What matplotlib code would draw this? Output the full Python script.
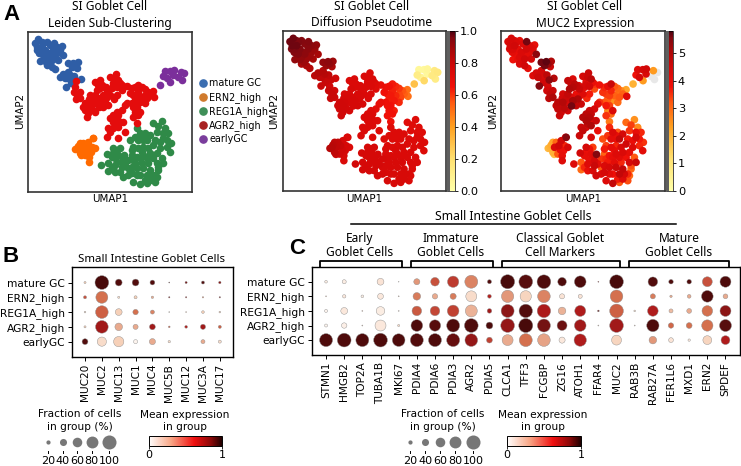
import numpy as np
import matplotlib
matplotlib.use('Agg')
import matplotlib.pyplot as plt
from matplotlib.colors import LinearSegmentedColormap, Normalize
from matplotlib.cm import ScalarMappable
from matplotlib.patches import Rectangle

W, H = 741, 466

## umap points, one row per cell: umap1, umap2, pseudotime, MUC2
mature_gc = [
    (115,118,.97,4.4),(105,128,.97,4.3),(125,125,.96,4.2),(140,125,.95,4.0),(161,128,.95,5.6),(112,140,.97,4.4),
    (125,140,.97,4.5),(150,135,.94,4.2),(185,138,.92,4.0),(120,150,.96,4.3),(135,150,.95,4.0),(160,150,.93,4.4),
    (180,150,.90,4.2),(130,165,.95,3.9),(145,160,.93,4.3),(170,160,.90,4.1),(190,166,.88,5.4),(120,182,.92,3.8),
    (140,175,.92,4.2),(155,180,.90,4.5),(165,172,.90,4.0),(140,195,.87,4.3),(155,200,.87,4.5),(165,208,.85,4.0),
    (205,190,.92,5.6),(220,188,.93,5.7),(235,187,.90,5.0),(215,200,.90,5.6),(232,203,.87,4.6),(180,230,.83,4.2),
    (190,222,.85,4.4),(205,215,.85,4.5),(200,235,.82,4.3),(215,240,.80,4.4),(199,261,.80,5.5),(212,250,.80,4.5),
    (243,238,.78,4.9),(150,165,.93,4.1),(135,182,.92,4.0),(110,150,.96,4.3),(175,180,.88,4.4),(195,235,.82,4.6),
    (222,228,.82,4.8),(130,130,.96,4.3),(118,160,.95,4.1),(160,140,.94,4.2),(148,190,.90,4.0),(210,225,.84,4.4),
    (225,195,.92,5.3),(170,140,.93,4.3),
]
agr2_high = [
    (222,275,.80,4.5),(232,285,.80,4.7),(228,298,.80,4.8),(240,275,.78,4.6),(240,295,.78,5.0),(225,262,.78,4.4),
    (285,245,.74,4.7),(300,240,.74,4.3),(305,255,.74,4.8),(330,232,.74,4.4),(347,222,.74,4.6),(355,240,.74,4.8),
    (340,248,.74,4.0),(365,255,.72,3.5),(350,262,.74,4.5),(335,265,.74,4.2),(320,270,.74,4.6),(300,265,.74,4.9),
    (290,270,.75,5.0),(285,285,.75,4.7),(270,285,.75,4.4),(310,285,.75,3.9),(330,285,.74,4.2),(350,285,.74,3.7),
    (365,270,.72,3.3),(380,258,.68,3.8),(390,280,.65,3.5),(415,255,.64,4.6),(425,262,.62,3.2),(435,268,.60,3.0),
    (415,275,.63,3.6),(400,285,.64,3.4),(435,285,.58,2.9),(460,272,.50,2.2),(462,292,.50,4.2),(440,295,.58,3.2),
    (405,300,.63,3.1),(420,305,.64,2.5),(435,310,.62,3.0),(410,320,.65,3.4),(405,335,.65,2.6),(400,350,.65,3.5),
    (420,335,.63,4.3),(410,368,.66,2.8),(375,315,.68,4.1),(380,310,.68,3.5),(365,330,.70,4.4),(350,335,.72,4.6),
    (340,345,.74,4.8),(350,355,.74,4.9),(340,365,.74,5.0),(325,385,.74,4.6),(340,385,.74,4.5),(320,410,.74,4.6),
    (330,395,.74,4.7),(355,415,.73,4.4),(375,395,.72,3.9),(370,365,.72,4.6),(355,380,.73,5.0),(255,310,.78,4.8),
    (265,320,.78,4.6),(255,330,.78,4.7),(265,340,.78,4.5),(260,350,.78,4.6),(270,310,.77,4.9),(285,310,.76,4.4),
    (300,305,.76,5.1),(310,320,.76,4.7),(325,315,.75,4.6),(296,321,.76,5.6),(285,335,.76,4.5),(315,300,.75,5.0),
    (235,290,.80,4.6),(229,243,.79,5.4),(295,255,.74,4.5),(318,260,.74,4.3),(345,235,.74,4.6),(360,250,.73,3.9),
    (338,258,.74,4.4),(312,262,.74,4.7),(280,298,.76,4.6),(268,298,.76,4.5),(295,295,.75,4.2),(320,292,.75,4.1),
    (342,298,.74,3.6),(250,320,.78,4.7),(275,328,.77,4.8),(355,345,.73,4.7),(330,355,.74,4.9),(345,375,.74,4.8),
    (360,365,.73,4.2),(425,290,.62,3.1),(410,290,.64,3.4),(395,265,.66,3.6),(405,262,.65,4.0),(445,275,.56,2.6),
    (450,285,.54,3.1),(395,310,.66,3.2),(415,345,.65,3.0),(400,320,.66,3.7),
]
reg1a_high = [
    (460,370,.71,3.0),(485,362,.72,2.5),(475,378,.72,3.4),(495,385,.72,2.6),(505,400,.72,3.6),(490,400,.72,4.0),
    (490,415,.73,4.4),(512,430,.73,3.5),(510,455,.73,4.1),(480,445,.73,4.2),(465,420,.73,3.7),(450,405,.73,4.4),
    (435,400,.73,3.2),(420,400,.73,4.3),(415,420,.73,4.1),(440,420,.73,4.7),(460,435,.73,4.5),(430,440,.73,3.6),
    (415,445,.73,4.0),(400,440,.73,3.4),(390,420,.73,3.3),(395,465,.74,3.1),(410,470,.74,3.8),(430,465,.74,4.2),
    (450,460,.74,4.3),(470,460,.74,4.0),(485,475,.74,3.2),(340,445,.76,4.4),(360,445,.76,3.4),(322,462,.76,4.5),
    (340,460,.76,3.8),(355,465,.76,4.1),(371,466,.76,5.5),(345,475,.76,3.6),(365,485,.76,4.4),(385,480,.76,3.5),
    (405,490,.75,3.7),(425,490,.75,4.1),(445,490,.75,3.6),(470,490,.74,4.4),(490,490,.74,4.6),(325,490,.76,3.2),
    (345,495,.76,4.2),(365,500,.76,4.6),(385,505,.75,3.2),(410,505,.75,4.4),(430,505,.75,4.6),(450,510,.75,4.7),
    (475,510,.74,3.0),(325,512,.76,3.0),(345,515,.76,4.0),(370,530,.76,4.5),(395,520,.75,4.4),(420,525,.75,3.8),
    (440,525,.75,4.7),(465,525,.74,3.6),(450,540,.75,4.2),(465,545,.74,3.3),(400,545,.75,4.2),(420,553,.75,4.7),
    (440,550,.75,3.2),(303,495,.77,4.2),(430,420,.73,3.9),(395,500,.75,4.3),(470,530,.74,3.0),(410,385,.72,3.6),
    (470,395,.72,3.5),(480,425,.73,3.9),(500,440,.73,3.6),(445,445,.74,4.3),(425,455,.74,3.9),(440,475,.74,4.1),
    (460,475,.74,3.8),(475,500,.74,3.3),(455,525,.75,4.4),(435,540,.75,3.7),(410,525,.75,4.1),(385,525,.76,4.2),
    (360,515,.76,4.3),(335,505,.76,3.6),(350,485,.76,4.0),(375,495,.76,4.1),(400,480,.75,3.6),(420,475,.74,4.0),
    (395,450,.74,3.7),(365,470,.76,4.2),(335,470,.76,4.0),(350,450,.76,3.8),(405,410,.73,3.5),(430,410,.73,4.0),
    (500,420,.73,3.7),
]
ern2_high = [
    (278,415,.74,4.4),(265,425,.76,4.5),(240,430,.82,2.2),(232,445,.84,2.0),(245,445,.82,4.3),(258,440,.80,4.5),
    (275,440,.76,3.6),(285,445,.74,4.4),(240,460,.82,2.0),(255,465,.78,3.2),(268,470,.75,4.0),(268,485,.74,4.2),
    (280,415,.74,5.5),(226,448,.84,1.9),(244,466,.80,1.8),(250,430,.81,3.0),(262,452,.78,3.9),(235,438,.83,2.1),
    (272,455,.76,3.8),
]
early_gc = [
    (495,212,.05,4.2),(510,212,.04,4.4),(521,210,.06,4.5),(490,228,.12,3.8),(500,235,.08,4.4),(520,225,.05,4.3),
    (542,215,.14,2.4),(552,220,.15,0),(535,230,.14,0),(545,240,.12,0),(481,255,.30,2.0),(511,245,.22,2.4),
]

clusters = ['mature GC', 'ERN2_high', 'REG1A_high', 'AGR2_high', 'earlyGC']
scatter_colors = ['#2f5ea6', '#ff6a00', '#2f8a48', '#e40c0c', '#7b2f9b']
legend_colors = ['#3a6db0', '#d07a2c', '#3f8f58', '#a82222', '#7a3d9c']

## dotplot B
muc_genes = ['MUC20','MUC2','MUC13','MUC1','MUC4','MUC5B','MUC12','MUC3A','MUC17']
muc_frac = [
    [8,97,38,38,24,3,8,13,9.5],
    [13,81,8,13,9.5,4.5,4.5,4.5,4.5],
    [6,87,38,28,19,3,3,11,6],
    [8,87,44,26,31,6,11,26,13],
    [31,57,66,19,33,9.5,0,19,13],
]
muc_mean = [
    [.2,1,.95,.95,.95,.95,.85,.95,.8],
    [.55,.45,.15,.2,.3,.85,.8,.4,.85],
    [.15,.5,.2,.45,.4,.1,.2,.2,.2],
    [.2,.75,.3,.3,.75,.5,.7,.75,.5],
    [.95,.15,.2,.05,.3,.15,0,.3,.15],
]

## dotplot C
marker_genes = ['STMN1','HMGB2','TOP2A','TUBA1B','MKI67','PDIA4','PDIA6','PDIA3','AGR2','PDIA5','CLCA1','TFF3',
                'FCGBP','ZG16','ATOH1','FFAR4','MUC2','RAB3B','RAB27A','FER1L6','MXD1','ERN2','SPDEF']
marker_frac = [
    [11,19,0,38,2,33,52,75,90,19,100,97,97,52,78,3,97,0,60,22,22,63,72],
    [3,15,11,31,3,44,28,33,72,17,84,75,87,26,19,0,87,0,26,9.5,17,78,24],
    [13,38,3,52,3,60,60,78,81,22,90,94,94,44,72,6,97,6,69,19,24,69,72],
    [13,28,3,72,8,78,75,90,97,38,97,100,90,63,78,3,97,3,84,28,31,75,81],
    [90,97,90,97,87,90,90,90,87,31,72,90,87,33,84,0,63,0,44,24,9.5,54,54],
]
marker_mean = [
    [.08,.08,0,.12,.1,.35,.55,.62,.4,.95,1,.93,.97,.97,.97,.8,1,0,.95,.97,.97,.55,.97],
    [.2,.1,.08,.1,.2,.42,.3,.42,.15,.7,.35,.18,.4,.12,.12,0,.45,0,.42,.3,.3,.97,.3],
    [.05,.1,.2,.08,.1,.52,.58,.6,.28,.75,.8,.95,.73,.28,.72,.9,.5,.15,.72,.25,.3,.45,.8],
    [.05,.07,.2,.1,.15,.97,.93,.97,.97,.98,.78,1,.85,.87,.75,.2,.75,.15,.97,.48,.45,.45,.93],
    [.97,.97,.97,.97,.97,.95,.97,.88,.78,.6,.3,.45,.32,.1,.72,0,.18,0,.35,.12,.1,.18,.72],
]
group_names = ['Early\nGoblet Cells', 'Immature\nGoblet Cells', 'Classical Goblet\nCell Markers', 'Mature\nGoblet Cells']
size_fracs = [20, 40, 60, 80, 100]

heat = LinearSegmentedColormap.from_list('heat', [(0,'#ffffa8'),(.2,'#ffe070'),(.4,'#ffa020'),(.55,'#ff5a10'),
                                                  (.65,'#f01008'),(.78,'#d00808'),(.88,'#a80808'),(.96,'#800810'),(1,'#4a0010')])
dots = LinearSegmentedColormap.from_list('dots', [(0,'#ffffff'),(.2,'#f6d0b8'),(.45,'#d4704e'),(.72,'#b01c1c'),
                                                  (.9,'#5e0e0e'),(1,'#480a0a')])
dots_bar = LinearSegmentedColormap.from_list('dots_bar', [(0,'#ffffff'),(.3,'#f8a888'),(.62,'#f01010'),(.85,'#8a0808'),(1,'#200000')])
SMAX = 102.0
TITLE_FONT = 'Noto Sans'

fig = plt.figure(figsize=(W/100, H/100), dpi=100)

def ax_px(x0, y0, x1, y1):
    return fig.add_axes([x0/W, 1-y1/H, (x1-x0)/W, (y1-y0)/H])

def txt(x, y, s, **kw):
    kw.setdefault('ha', 'center')
    kw.setdefault('va', 'center')
    kw.setdefault('fontsize', 8)
    fig.text(x/W, 1-y/H, s, **kw)

def umap_axes(box, title, title_x, ylab_x):
    ax = ax_px(*box)
    ax.set_xlim(83, 577)
    ax.set_ylim(575, 96)
    ax.set_xticks([])
    ax.set_yticks([])
    for s in ax.spines.values():
        s.set_linewidth(1.2)
        s.set_color('#333333')
    txt(title_x, 7, 'SI Goblet Cell', fontsize=8.6, family=TITLE_FONT)
    txt(title_x, 23, title, fontsize=8.6, family=TITLE_FONT)
    txt((box[0]+box[2])/2, 199, 'UMAP1', fontsize=7.4)
    txt(ylab_x, 111, 'UMAP2', fontsize=7.4, rotation=90)
    return ax

def colorbar(box, vmax, ticks):
    cax = ax_px(*box)
    cb = fig.colorbar(ScalarMappable(Normalize(0, vmax), heat), cax=cax)
    cb.set_ticks(ticks)
    cb.ax.tick_params(labelsize=8.2, length=2, width=.6, pad=1.5)
    cb.outline.set_linewidth(.5)
    fig.add_artist(Rectangle((box[0]/W, 1-box[3]/H), 3/W, (box[3]-box[1])/H, transform=fig.transFigure,
                             color='#5f5f5f', lw=0))

def dotplot(box, genes, frac, mean):
    ax = ax_px(*box)
    f = np.array(frac, dtype=float)
    m = np.array(mean, dtype=float)
    yy, xx = np.indices(f.shape)
    keep = f > 0
    ax.scatter(xx[keep], yy[keep], s=(f[keep]/100)**1.5*SMAX, c=m[keep], cmap=dots, vmin=0, vmax=1,
               edgecolors='#8c8c8c', linewidths=.3, zorder=3)
    ax.set_xlim(-.79, len(genes)-1+.8)
    ax.set_ylim(5-1+1.02, -1.03)
    ax.set_xticks(range(len(genes)))
    ax.set_xticklabels(genes, rotation=90, fontsize=7.6)
    ax.set_yticks(range(5))
    ax.set_yticklabels(clusters, fontsize=7.7)
    ax.tick_params(length=3, width=.7, pad=2)
    ax.tick_params(axis='x', pad=2)
    for s in ax.spines.values():
        s.set_linewidth(1.0)
    return ax

def legends(size_xs, size_title_x, cb_box, cb_title_x):
    txt(size_title_x, 414, 'Fraction of cells', fontsize=7.6)
    txt(size_title_x, 426.5, 'in group (%)', fontsize=7.6)
    sax = ax_px(size_xs[0]-8, 434, size_xs[-1]+14, 466)
    sax.set_xlim(size_xs[0]-8, size_xs[-1]+14)
    sax.set_ylim(466, 434)
    sax.axis('off')
    for fr, x in zip(size_fracs, size_xs):
        sax.scatter([x], [442], s=(fr/100)**1.5*SMAX, c='#777777', lw=0, clip_on=False)
        sax.plot([x, x], [451, 453], color='k', lw=.7)
        sax.text(x, 460.5, str(fr), ha='center', va='center', fontsize=8)
    txt(cb_title_x, 415, 'Mean expression', fontsize=7.6)
    txt(cb_title_x, 427, 'in group', fontsize=7.6)
    cax = ax_px(*cb_box)
    cb = fig.colorbar(ScalarMappable(Normalize(0, 1), dots_bar), cax=cax, orientation='horizontal')
    cb.set_ticks([0, 1])
    cb.ax.tick_params(labelsize=8, length=2, width=.6, pad=1)
    cb.outline.set_linewidth(.7)

groups = [mature_gc, ern2_high, reg1a_high, agr2_high, early_gc]
all_cells = np.array(sum(groups, []))
u1, u2, pseudotime, muc2 = all_cells.T
MS = 30

# A: leiden clusters
ax = umap_axes((27.7, 32, 192.3, 191.7), 'Leiden Sub-Clustering', 110, 20)
for g, c in zip(groups, scatter_colors):
    g = np.array(g)
    ax.scatter(g[:, 0], g[:, 1], s=MS, color=c, lw=0)
for i, (name, c) in enumerate(zip(clusters, legend_colors)):
    y = 83.3 + 14*i
    fig.add_artist(plt.Line2D([203.3/W], [1-y/H], marker='o', ms=5.2, color=c, lw=0))
    txt(209, y, name, ha='left', fontsize=6.9)

# A: pseudotime
ax = umap_axes((282.7, 31, 446, 190.7), 'Diffusion Pseudotime', 371.5, 274)
order = np.argsort(pseudotime)
ax.scatter(u1[order], u2[order], s=MS, c=pseudotime[order], cmap=heat, vmin=0, vmax=1, lw=0)
colorbar((447.3, 31, 455, 190.7), 1.0, [0, .2, .4, .6, .8, 1.0])

# A: MUC2
ax = umap_axes((500.7, 31, 665, 190.7), 'MUC2 Expression', 585, 492.7)
order = np.argsort(muc2)
ax.scatter(u1[order], u2[order], s=MS, c=np.where(muc2[order] > 0, muc2[order], np.nan), cmap=heat, vmin=0, vmax=5.8, lw=0)
ax.scatter(u1[muc2 == 0], u2[muc2 == 0], s=MS, color='#e8e8e8', lw=0, zorder=0)
colorbar((666, 31, 673, 190.7), 5.8, [0, 1, 2, 3, 4, 5])

# B
dotplot((71.7, 267.3, 233.3, 356.7), muc_genes, muc_frac, muc_mean)
txt(151, 260, 'Small Intestine Goblet Cells', fontsize=8.2, family=TITLE_FONT)
legends([48.3, 62.7, 77.3, 91.7, 109], 80, (148.7, 436, 222, 445.5), 185)

# C
dotplot((311.7, 266.7, 740, 355), marker_genes, marker_frac, marker_mean)
legends([410.3, 425.3, 440, 455, 473], 442.7, (507, 436, 581, 445.5), 543)

txt(513, 216, 'Small Intestine Goblet Cells', fontsize=8.8, family=TITLE_FONT)
fig.add_artist(plt.Line2D([351/W, 676/W], [1-224.3/H]*2, color='k', lw=1.1))
brackets = [(320.3, 402.3, 360), (411, 493, 451), (502, 620.3, 560), (629, 729.3, 679)]
for (x0, x1, xm), name in zip(brackets, group_names):
    fig.add_artist(plt.Line2D([x0/W, x0/W, x1/W, x1/W], [1-266.7/H, 1-261/H, 1-261/H, 1-266.7/H], color='k', lw=1.3))
    a, b = name.split('\n')
    txt(xm, 238.5, a, fontsize=8.6, family=TITLE_FONT)
    txt(xm, 252.5, b, fontsize=8.6, family=TITLE_FONT)

# panel letters
for x, y, s in [(11, 15, 'A'), (11, 256, 'B'), (297, 248.5, 'C')]:
    txt(x, y, s, fontsize=16, fontweight='bold', family='Liberation Sans')

fig.savefig('out.png', dpi=100)
